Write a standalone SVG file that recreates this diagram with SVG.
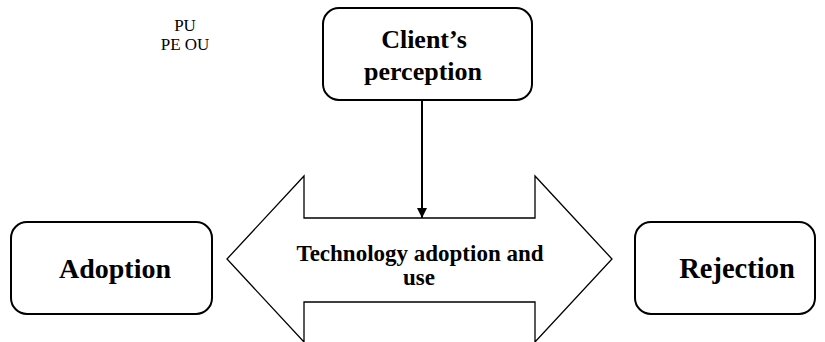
<svg xmlns="http://www.w3.org/2000/svg" width="825" height="342" viewBox="0 0 825 342">
<defs>
<style>
.box{fill:#fff;stroke:#000;stroke-width:2}
.shape{fill:#fff;stroke:#000;stroke-width:1.3}
.t{font-family:"Liberation Serif","Times New Roman",serif;fill:#000;text-anchor:middle}
.b{font-weight:bold}
.conn{stroke:#000;stroke-width:2;fill:none}
</style>
<marker id="ah" viewBox="0 0 10 10" refX="10" refY="5" markerWidth="10" markerHeight="15" markerUnits="userSpaceOnUse" orient="auto">
<path d="M0,0 L10,5 L0,10 Z" fill="#000"/>
</marker>
</defs>
<rect width="825" height="342" fill="#fff"/>
<g id="label-pu">
<text class="t" x="185" y="31" font-size="17">PU</text>
<text class="t" x="185" y="50" font-size="17">PE OU</text>
</g>
<g id="tech">
<path class="shape" d="M227,259 L304,176 L304,218 L535,218 L535,176 L612,259 L535,342 L535,302 L304,302 L304,342 Z"/>
<text class="t b" x="420" y="261" font-size="23">Technology adoption and</text>
<text class="t b" x="419" y="285" font-size="23">use</text>
</g>
<g id="connectors">
<line class="conn" x1="422" y1="100" x2="422" y2="218" marker-end="url(#ah)"/>
</g>
<g id="client">
<rect class="box" x="323" y="8" width="209" height="92" rx="16"/>
<text class="t b" x="424" y="48" font-size="26">Client’s</text>
<text class="t b" x="423" y="80" font-size="26">perception</text>
</g>
<g id="adoption">
<rect class="box" x="11" y="222" width="201" height="92" rx="16"/>
<text class="t b" x="115" y="278" font-size="28">Adoption</text>
</g>
<g id="rejection">
<rect class="box" x="635" y="222" width="180" height="92" rx="16"/>
<text class="t b" x="737" y="278" font-size="28.5">Rejection</text>
</g>
</svg>
